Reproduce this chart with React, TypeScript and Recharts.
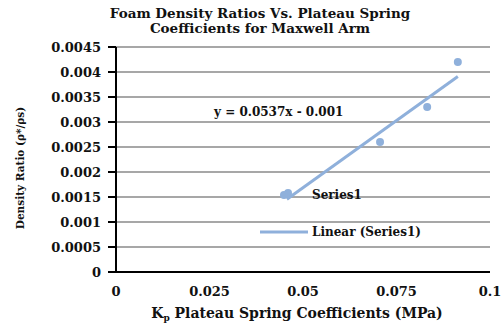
import React from "react";
import {
  ComposedChart,
  XAxis,
  YAxis,
  CartesianGrid,
  Scatter,
  Line,
  Label,
} from "recharts";

// Measured points: plateau spring coefficient (MPa) vs. density ratio
const springCoefficients = [0.046, 0.0706, 0.0832, 0.0914];
const densityRatios = [0.00158, 0.0026, 0.0033, 0.0042];

// Linear fit reported on the chart
const fitSlope = 0.0537;
const fitIntercept = -0.001;
const fitRange = [0.0457, 0.0914];

const xTicks = [0, 0.025, 0.05, 0.075, 0.1];
const yTicks = [0, 0.0005, 0.001, 0.0015, 0.002, 0.0025, 0.003, 0.0035, 0.004, 0.0045];

const title = ["Foam Density Ratios Vs. Plateau Spring", "Coefficients for Maxwell Arm"];
const equationText = "y = 0.0537x - 0.001";

const points = springCoefficients.map((x, i) => ({ x, y: densityRatios[i] }));
const fitLine = fitRange.map((x) => ({ x, y: fitSlope * x + fitIntercept }));

const SERIES_COLOR = "#8fb0db";
const FONT = "'DejaVu Serif', 'Liberation Serif', serif";

const fmt = (v: number) => (v === 0 ? "0" : String(v));

export default function App() {
  return (
    <div
      style={{
        position: "absolute",
        left: 0,
        top: 0,
        width: 503,
        height: 331,
        background: "#fff",
        fontFamily: FONT,
        fontWeight: 700,
      }}
    >
      <div
        style={{
          position: "absolute",
          left: 0,
          top: 6,
          width: 520,
          textAlign: "center",
          fontSize: 13.5,
          lineHeight: "15px",
          fontWeight: 700,
          color: "#111",
        }}
      >
        {title.map((t) => (
          <div key={t}>{t}</div>
        ))}
      </div>
      <ComposedChart
        width={503}
        height={331}
        margin={{ top: 47, right: 13, bottom: 29, left: 0 }}
      >
        <CartesianGrid
          horizontal
          vertical={false}
          stroke="#8a8a8a"
          strokeWidth={1.5}
        />
        <XAxis
          type="number"
          dataKey="x"
          domain={[0, 0.1]}
          ticks={xTicks}
          tickFormatter={fmt}
          interval={0}
          stroke="#000"
          strokeWidth={2}
          tickLine={false}
          tickMargin={9}
          tick={{ fill: "#111", fontSize: 13, fontFamily: FONT, fontWeight: 700 }}
        >
          <Label
            content={() => (
              <text
                x={297}
                y={318}
                textAnchor="middle"
                fontFamily={FONT}
                fontWeight={700}
                fontSize={14}
                fill="#111"
              >
                K
                <tspan fontSize={9} dy={3}>p</tspan>
                <tspan dy={-3}> Plateau Spring Coefficients (MPa)</tspan>
              </text>
            )}
          />
        </XAxis>
        <YAxis
          type="number"
          dataKey="y"
          domain={[0, 0.0045]}
          ticks={yTicks}
          tickFormatter={fmt}
          interval={0}
          width={116}
          stroke="#000"
          strokeWidth={2}
          tickSize={8}
          tickMargin={7}
          tick={{ fill: "#111", fontSize: 13, fontFamily: FONT, fontWeight: 700 }}
        >
          <Label
            content={() => (
              <text
                x={24}
                y={168}
                transform="rotate(-90 24 168)"
                textAnchor="middle"
                fontFamily={FONT}
                fontWeight={700}
                fontSize={10.5}
                fill="#111"
              >
                Density Ratio (ρ*/ρs)
              </text>
            )}
          />
        </YAxis>
        <YAxis
          yAxisId="right"
          orientation="right"
          width={0}
          stroke="#000"
          strokeWidth={2}
          tick={false}
          tickLine={false}
        />
        <XAxis
          xAxisId="top"
          orientation="top"
          height={0}
          stroke="#000"
          strokeWidth={2}
          tick={false}
          tickLine={false}
        />
        <Line
          data={fitLine}
          dataKey="y"
          type="linear"
          stroke={SERIES_COLOR}
          strokeWidth={3}
          dot={false}
          isAnimationActive={false}
        />
        <Scatter
          data={points}
          dataKey="y"
          fill={SERIES_COLOR}
          shape={(p: any) => <circle cx={p.cx} cy={p.cy} r={4} fill={SERIES_COLOR} />}
          isAnimationActive={false}
        />
      </ComposedChart>
      <div
        style={{
          position: "absolute",
          left: 214,
          top: 104,
          fontSize: 12,
          lineHeight: "16px",
          color: "#111",
          whiteSpace: "nowrap",
        }}
      >
        {equationText}
      </div>
      {/* legend box inside the plot area */}
      <div style={{ position: "absolute", left: 258, top: 185, fontSize: 12, color: "#111" }}>
        <div style={{ display: "flex", alignItems: "center", height: 20 }}>
          <svg width={52} height={12}>
            <circle cx={26} cy={6} r={4} fill={SERIES_COLOR} />
          </svg>
          <span style={{ marginLeft: 2 }}>Series1</span>
        </div>
        <div style={{ display: "flex", alignItems: "center", height: 20, marginTop: 17 }}>
          <svg width={52} height={12}>
            <line x1={2} y1={6} x2={50} y2={6} stroke={SERIES_COLOR} strokeWidth={3} />
          </svg>
          <span style={{ marginLeft: 2 }}>Linear (Series1)</span>
        </div>
      </div>
    </div>
  );
}
